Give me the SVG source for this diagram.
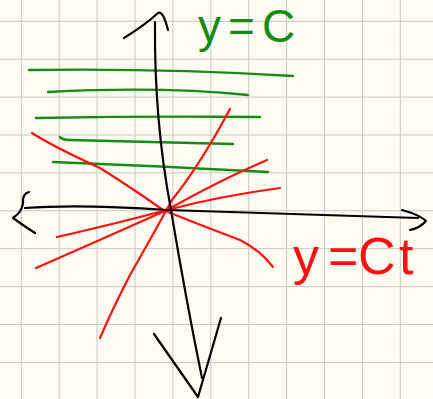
<svg xmlns="http://www.w3.org/2000/svg" width="433" height="399" viewBox="0 0 433 399">
<defs>
<pattern id="grid" x="20.8" y="20.8" width="37.9" height="37.9" patternUnits="userSpaceOnUse">
<path d="M0 0H37.9M0 0V37.9" fill="none" stroke="#c6c6c6" stroke-width="2"/>
</pattern>
<style>
.ax{fill:none;stroke:#000;stroke-width:2.2;stroke-linecap:round;stroke-linejoin:round}
.g{fill:none;stroke:#158a15;stroke-width:2.4;stroke-linecap:round}
.r{fill:none;stroke:#ff1010;stroke-width:2.2;stroke-linecap:round}
.lg{font-family:"Liberation Sans",Arial,sans-serif;font-size:46px;fill:#158a15}
.lr{font-family:"Liberation Sans",Arial,sans-serif;font-size:52px;fill:#ff1010}
</style>
</defs>
<rect width="433" height="399" fill="#fefcf0"/>
<rect width="433" height="399" fill="url(#grid)"/>
<g id="green-lines">
<path class="g" d="M29 70 Q160 68 293 76"/>
<path class="g" d="M48 92 Q160 86 248 95"/>
<path class="g" d="M36 118 Q150 116 260 117"/>
<path class="g" d="M60 137 Q62 140 70 140 Q160 142 233 144"/>
<path class="g" d="M53 162 Q160 166 268 172"/>
</g>
<g id="red-lines">
<path class="r" d="M230 109 Q200 165 172 200 Q150 240 130 275 Q112 310 100 338"/>
<path class="r" d="M57 237 Q110 225 167 210 Q220 196 280 188"/>
<path class="r" d="M36 268 Q100 240 167 210 Q220 180 267 160"/>
<path class="r" d="M32 133 Q52 146 100 168 Q135 190 163 210 Q200 225 240 240 Q260 250 273 267"/>
</g>
<g id="axes">
<path class="ax" d="M155 22 Q154 120 171 210 Q186 300 202 378"/>
<path class="ax" d="M124 38 Q145 25 158 13 Q163 10 168 30"/>
<path class="ax" d="M154 334 L198 397 L221 318"/>
<path class="ax" d="M25 208 Q80 204 167 210 Q300 214 418 218"/>
<path class="ax" d="M29 192 Q22 194 23 203 Q22 212 13 218 Q24 226 35 233"/>
<path class="ax" d="M402 210 Q420 215 426 221 Q420 228 410 230"/>
</g>
<g id="labels">
<text class="lg" y="42"><tspan x="198">y</tspan><tspan x="228">=</tspan><tspan x="262">C</tspan></text>
<text class="lr" y="274"><tspan x="293">y</tspan><tspan x="328">=</tspan><tspan x="358">C</tspan><tspan x="399">t</tspan></text>
</g>
</svg>
